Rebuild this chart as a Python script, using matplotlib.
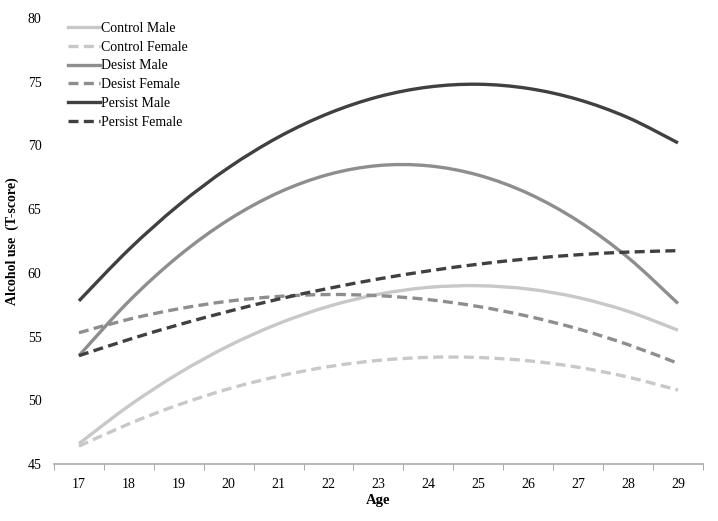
import numpy as np
import matplotlib
matplotlib.use("Agg")
import matplotlib.pyplot as plt
from matplotlib.path import Path
from matplotlib.patches import PathPatch
from matplotlib.lines import Line2D

# ages and fitted T-scores
ages = [17, 18, 19, 20, 21, 22, 23, 24, 25, 26, 27, 28, 29]
control_male = [46.6, 49.56, 52.12, 54.27, 56.02, 57.37, 58.32, 58.86, 58.99, 58.73, 58.06, 56.98, 55.5]
control_female = [46.4, 48.15, 49.65, 50.9, 51.89, 52.64, 53.13, 53.37, 53.36, 53.1, 52.59, 51.82, 50.8]
desist_male = [53.5, 57.77, 61.33, 64.17, 66.3, 67.72, 68.42, 68.4, 67.67, 66.23, 64.07, 61.2, 57.6]
desist_female = [55.3, 56.36, 57.18, 57.78, 58.15, 58.3, 58.21, 57.9, 57.36, 56.59, 55.6, 54.37, 52.9]
persist_male = [57.8, 61.83, 65.32, 68.26, 70.66, 72.51, 73.82, 74.58, 74.8, 74.47, 73.6, 72.18, 70.2]
persist_female = [53.5, 54.77, 55.93, 56.98, 57.94, 58.78, 59.52, 60.15, 60.68, 61.1, 61.42, 61.63, 61.74]
yticks = [45, 50, 55, 60, 65, 70, 75, 80]

plt.rcParams['font.family'] = ['Liberation Serif', 'DejaVu Serif']

fig = plt.figure(figsize=(7.18, 5.21), dpi=100)
ax = fig.add_axes([0.0752, 0.1094, 0.9038, 0.8561])

light = '#c8c8c8'
mid = '#8e8e8e'
dark = '#404040'
lw = 2.4
dash = (0, (3, 1.6))


def smooth_line(x, y, color, ls):
    # draw a smoothed line (Catmull-Rom style bezier) through the points
    x = np.asarray(x, float)
    y = np.asarray(y, float)
    verts = [(x[0], y[0])]
    codes = [Path.MOVETO]
    n = len(x)
    for i in range(n - 1):
        x0, y0 = (x[i - 1], y[i - 1]) if i > 0 else (x[i], y[i])
        x3, y3 = (x[i + 2], y[i + 2]) if i + 2 < n else (x[i + 1], y[i + 1])
        c1 = (x[i] + (x[i + 1] - x0) / 6, y[i] + (y[i + 1] - y0) / 6)
        c2 = (x[i + 1] - (x3 - x[i]) / 6, y[i + 1] - (y3 - y[i]) / 6)
        verts += [c1, c2, (x[i + 1], y[i + 1])]
        codes += [Path.CURVE4] * 3
    ax.add_patch(PathPatch(Path(verts, codes), fill=False, edgecolor=color,
                           lw=lw, ls=ls, capstyle='butt'))
    return Line2D([], [], color=color, lw=lw, ls=ls)


handles = [
    smooth_line(ages, control_male, light, '-'),
    smooth_line(ages, control_female, light, dash),
    smooth_line(ages, desist_male, mid, '-'),
    smooth_line(ages, desist_female, mid, dash),
    smooth_line(ages, persist_male, dark, '-'),
    smooth_line(ages, persist_female, dark, dash),
]
labels = ['Control Male', 'Control Female', 'Desist Male', 'Desist Female',
          'Persist Male', 'Persist Female']

ax.set_xlim(16.5, 29.5)
ax.set_ylim(45, 80)
ax.set_xticks(ages)
ax.set_xticks(np.arange(16.5, 30, 1), minor=True)
ax.set_yticks(yticks)
ax.tick_params(axis='x', which='major', length=0, labelsize=10, pad=10)
ax.tick_params(axis='x', which='minor', length=4, color='#999999', direction='out')
ax.tick_params(axis='y', length=0, labelsize=10, pad=9)
for s in ['top', 'right', 'left']:
    ax.spines[s].set_visible(False)
ax.spines['bottom'].set_color('#aaaaaa')
ax.spines['bottom'].set_linewidth(1.2)

ax.set_xlabel('Age', fontweight='bold', fontsize=10.5, labelpad=2)
fig.text(0.017, 0.537, 'Alcohol use  (T-score)', fontweight='bold', fontsize=10,
         rotation=90, ha='center', va='center')

ax.legend(handles, labels, loc='upper left', bbox_to_anchor=(0.013, 1.004),
          frameon=False, fontsize=10, handlelength=2.3, handletextpad=0.1,
          labelspacing=0.42, borderaxespad=0.0)

fig.savefig('out.png', dpi=100)
